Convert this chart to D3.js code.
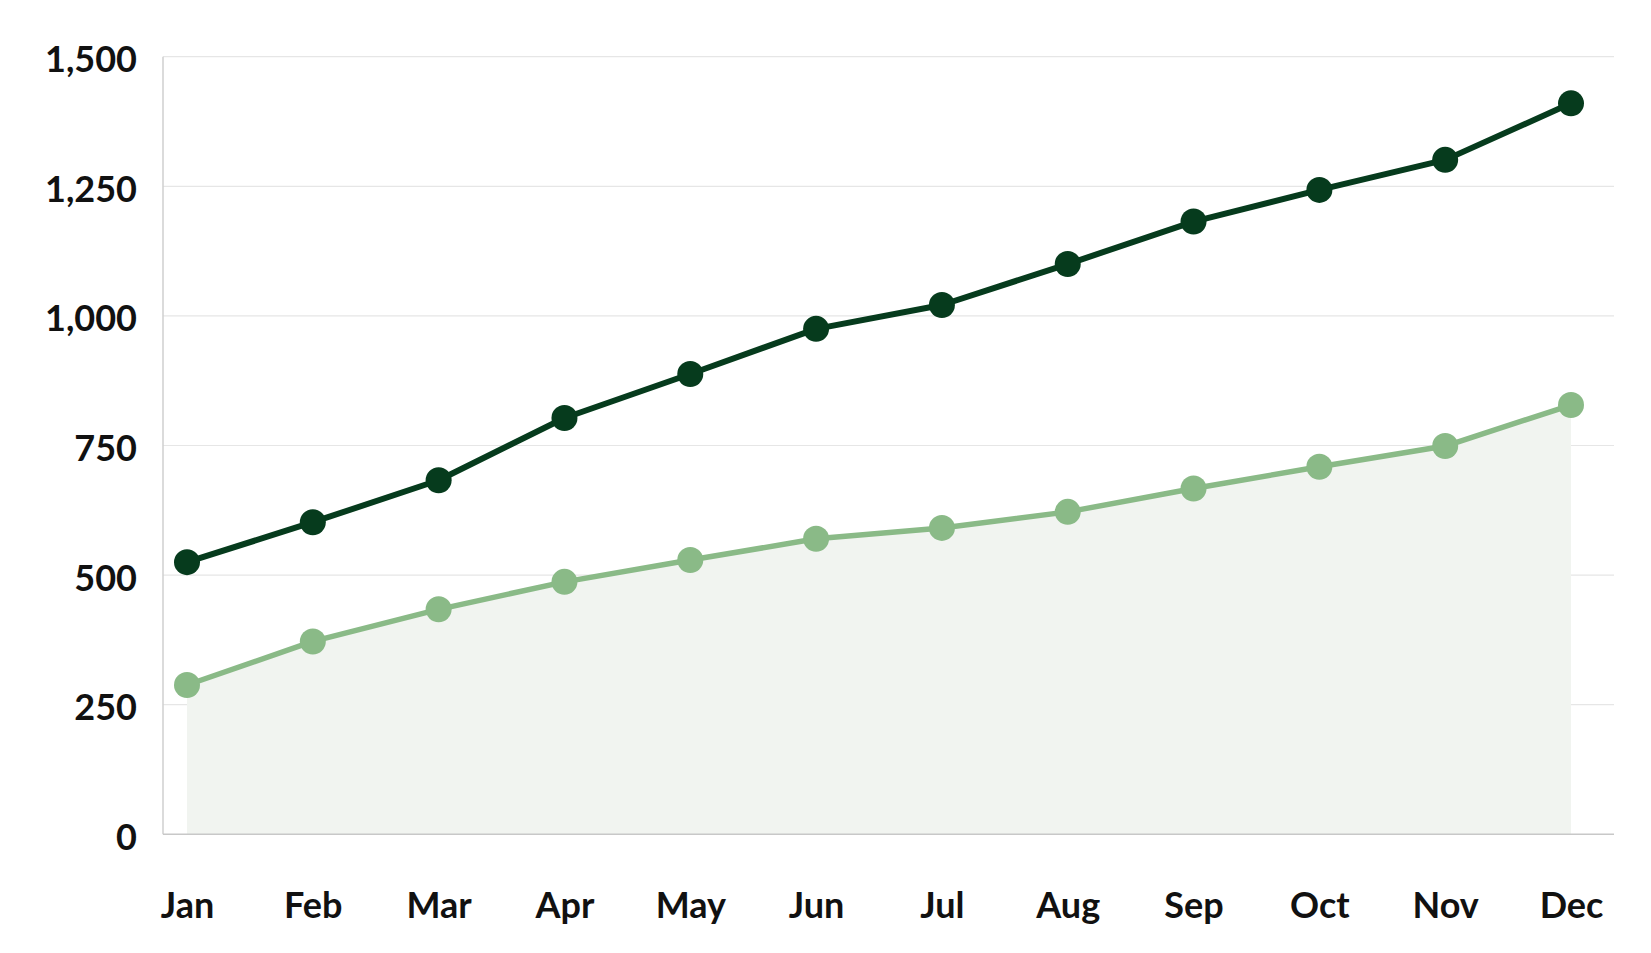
<!DOCTYPE html>
<html>
<head>
<meta charset="utf-8">
<script src="https://cdn.jsdelivr.net/npm/d3@7"></script>
<style>
  html, body { margin: 0; padding: 0; background: #ffffff; }
  svg { display: block; }
</style>
</head>
<body>
<svg id="chart" width="1651" height="953"></svg>
<script>
const months = ["Jan","Feb","Mar","Apr","May","Jun","Jul","Aug","Sep","Oct","Nov","Dec"];
const seriesDark = [525, 602, 683, 803, 888, 975, 1021, 1100, 1182, 1243, 1301, 1410];
const seriesLight = [288, 372, 434, 487, 529, 570, 591, 622, 667, 709, 749, 828];
const yTicks = [0, 250, 500, 750, 1000, 1250, 1500];

const svg = d3.select("#chart");
const plot = { left: 163, right: 1614, top: 56.7, bottom: 834.3 };

const x = d3.scalePoint().domain(months).range([187, 1571]);
const y = d3.scaleLinear().domain([0, 1500]).range([plot.bottom, plot.top]);

const font = "Lato, 'Open Sans', sans-serif";

// gridlines
svg.append("g")
  .selectAll("line")
  .data(yTicks.filter(d => d > 0))
  .join("line")
  .attr("x1", plot.left).attr("x2", plot.right)
  .attr("y1", d => y(d)).attr("y2", d => y(d))
  .attr("stroke", "#e6e6e6").attr("stroke-width", 1.2);

// area under light series
const area = d3.area()
  .x((d, i) => x(months[i]))
  .y0(y(0))
  .y1(d => y(d));
svg.append("path")
  .datum(seriesLight)
  .attr("d", area)
  .attr("fill", "#f1f4f0");

// axes lines
svg.append("line")
  .attr("x1", plot.left).attr("x2", plot.left)
  .attr("y1", plot.top).attr("y2", plot.bottom)
  .attr("stroke", "#cfcfcf").attr("stroke-width", 1.5);
svg.append("line")
  .attr("x1", plot.left).attr("x2", plot.right)
  .attr("y1", plot.bottom).attr("y2", plot.bottom)
  .attr("stroke", "#c8c8c8").attr("stroke-width", 1.5);

// y axis labels
const yAxis = d3.axisLeft(y).tickValues(yTicks).tickFormat(d3.format(",")).tickSize(0).tickPadding(26);
const gy = svg.append("g").attr("transform", `translate(${plot.left},0)`).call(yAxis);
gy.select(".domain").remove();
gy.selectAll("text")
  .attr("font-family", font).attr("font-size", 36).attr("font-weight", 700)
  .attr("fill", "#111111").attr("dy", "0.36em")
  .attr("transform", "translate(0,2)");

// x axis labels
const xAxis = d3.axisBottom(x).tickSize(0).tickPadding(0);
const gx = svg.append("g").attr("transform", `translate(0,${plot.bottom})`).call(xAxis);
gx.select(".domain").remove();
gx.selectAll("text")
  .attr("font-family", font).attr("font-size", 36).attr("font-weight", 700)
  .attr("fill", "#111111").attr("dy", 0).attr("y", 84);

// lines
const line = d3.line().x((d, i) => x(months[i])).y(d => y(d));

function drawSeries(data, color, width) {
  svg.append("path")
    .datum(data)
    .attr("d", line)
    .attr("fill", "none")
    .attr("stroke", color)
    .attr("stroke-width", width)
    .attr("stroke-linejoin", "round");
  svg.append("g")
    .selectAll("circle")
    .data(data)
    .join("circle")
    .attr("cx", (d, i) => x(months[i]))
    .attr("cy", d => y(d))
    .attr("r", 13)
    .attr("fill", color);
}

drawSeries(seriesLight, "#8aba87", 5.5);
drawSeries(seriesDark, "#063b1d", 6);
</script>
</body>
</html>
